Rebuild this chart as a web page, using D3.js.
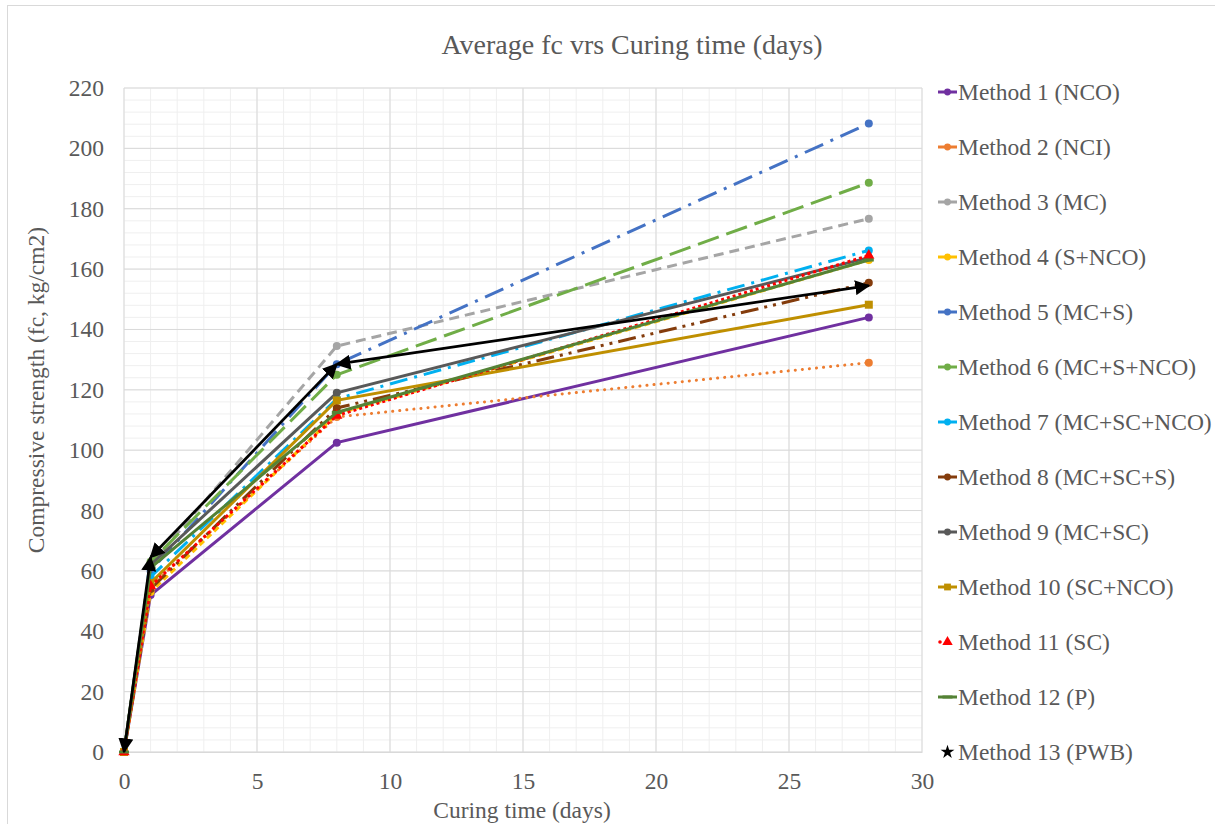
<!DOCTYPE html>
<html>
<head>
<meta charset="utf-8">
<script src="https://cdn.jsdelivr.net/npm/d3@7/dist/d3.min.js"></script>
<style>
  body { margin: 0; background: #fff; }
  text { font-family: "Liberation Serif", "Times New Roman", serif; fill: #595959; }
</style>
</head>
<body>
<svg id="chart" width="1215" height="824"></svg>
<script>
// curing days and strength per method
var days = [0, 1, 8, 28];
var names = ["Method 1 (NCO)", "Method 2 (NCI)", "Method 3 (MC)", "Method 4 (S+NCO)",
  "Method 5 (MC+S)", "Method 6 (MC+S+NCO)", "Method 7 (MC+SC+NCO)", "Method 8 (MC+SC+S)",
  "Method 9 (MC+SC)", "Method 10 (SC+NCO)", "Method 11 (SC)", "Method 12 (P)", "Method 13 (PWB)"];
var m1 = [0, 52, 102.5, 144];
var m2 = [0, 55, 111, 129];
var m3 = [0, 62, 134.5, 176.7];
var m4 = [0, 53, 112, 163];
var m5 = [0, 60, 128.5, 208.2];
var m6 = [0, 63, 125, 188.6];
var m7 = [0, 58, 117, 166.2];
var m8 = [0, 54, 114, 155.5];
var m9 = [0, 62, 119, 163.8];
var m10 = [0, 56, 116.5, 148.2];
var m11 = [0, 55, 111.5, 164.5];
var m12 = [0, 61, 112.5, 163];
var m13 = [0, 64.5, 128.5, 154.5];
var allVals = [m1, m2, m3, m4, m5, m6, m7, m8, m9, m10, m11, m12, m13];
var xTicks = [0, 5, 10, 15, 20, 25, 30];
var yTicks = [0, 20, 40, 60, 80, 100, 120, 140, 160, 180, 200, 220];

var colors = ["#7030A0", "#ED7D31", "#A5A5A5", "#FFC000", "#4472C4", "#70AD47", "#00B0F0",
  "#843C0C", "#595959", "#BF8F00", "#FF0000", "#548235", "#000000"];
var dashes = [null, "0.1,7", "10,6", "6,4", "20,8,3,8", "22,8", "18,7,3,7", "18,6,3,6,3,6",
  null, null, "3,3", null, null];
var caps = ["butt", "round", "butt", "butt", "butt", "butt", "butt", "butt", "butt", "butt", "butt", "butt", "butt"];
var markerType = ["circle", "circle", "circle", "circle", "circle", "circle", "circle", "circle",
  "circle", "square", "triangle", "dash", "star"];

var svg = d3.select("#chart");
var margin = {left: 124, top: 88, right: 922, bottom: 752};
var fontSize = "23.5px";

// chart frame
svg.append("rect").attr("x", 7.5).attr("y", 5.5).attr("width", 1220).attr("height", 830)
  .attr("fill", "none").attr("stroke", "#d9d9d9");

var x = d3.scaleLinear().domain([0, 30]).range([margin.left, margin.right]);
var y = d3.scaleLinear().domain([0, 220]).range([margin.bottom, margin.top]);

// minor grid
var grid = svg.append("g");
grid.selectAll(".mx").data(d3.range(0, 31, 1)).enter().append("line")
  .attr("x1", d => x(d)).attr("x2", d => x(d)).attr("y1", y(0)).attr("y2", y(220))
  .attr("stroke", "#efefef").attr("stroke-width", 1);
grid.selectAll(".my").data(d3.range(0, 221, 4)).enter().append("line")
  .attr("x1", x(0)).attr("x2", x(30)).attr("y1", d => y(d)).attr("y2", d => y(d))
  .attr("stroke", "#efefef").attr("stroke-width", 1);
// major grid
grid.selectAll(".Mx").data(xTicks).enter().append("line")
  .attr("x1", d => x(d)).attr("x2", d => x(d)).attr("y1", y(0)).attr("y2", y(220))
  .attr("stroke", "#d9d9d9").attr("stroke-width", 1);
grid.selectAll(".My").data(yTicks).enter().append("line")
  .attr("x1", x(0)).attr("x2", x(30)).attr("y1", d => y(d)).attr("y2", d => y(d))
  .attr("stroke", "#d9d9d9").attr("stroke-width", 1);

// axes
var xAxis = d3.axisBottom(x).tickValues(xTicks).tickSize(0).tickPadding(20);
var yAxis = d3.axisLeft(y).tickValues(yTicks).tickSize(0).tickPadding(20);
var gx = svg.append("g").attr("transform", "translate(0," + margin.bottom + ")").call(xAxis);
gx.select(".domain").attr("stroke", "#d9d9d9");
gx.selectAll("text").style("font-size", fontSize).style("font-family", "Liberation Serif").attr("fill", "#595959");
var gy = svg.append("g").attr("transform", "translate(" + margin.left + ",0)").call(yAxis);
gy.select(".domain").remove();
gy.selectAll("text").style("font-size", fontSize).style("font-family", "Liberation Serif").attr("fill", "#595959");

// titles
svg.append("text").attr("x", 632).attr("y", 54).attr("text-anchor", "middle")
  .style("font-size", "28px").text("Average fc vrs Curing time (days)");
svg.append("text").attr("x", 522).attr("y", 818).attr("text-anchor", "middle")
  .style("font-size", fontSize).text("Curing time (days)");
svg.append("text").attr("transform", "translate(44,390) rotate(-90)").attr("text-anchor", "middle")
  .style("font-size", fontSize).text("Compressive strength (fc, kg/cm2)");

// arrow marker for method 13
var defs = svg.append("defs");
defs.append("marker").attr("id", "arrow").attr("viewBox", "0 0 10 10")
  .attr("refX", 9).attr("refY", 5).attr("markerWidth", 5.5).attr("markerHeight", 5.5)
  .attr("markerUnits", "strokeWidth").attr("orient", "auto-start-reverse")
  .append("path").attr("d", "M0,0 L10,5 L0,10 z").attr("fill", "#000");

var line = d3.line().x(d => x(d[0])).y(d => y(d[1]));

function drawMarker(g, type, cx, cy, col, big) {
  var s = big ? 1 : 0.85;
  if (type == "circle") {
    g.append("circle").attr("cx", cx).attr("cy", cy).attr("r", 4 * s).attr("fill", col);
  } else if (type == "square") {
    g.append("rect").attr("x", cx - 4 * s).attr("y", cy - 4 * s).attr("width", 8 * s).attr("height", 8 * s).attr("fill", col);
  } else if (type == "triangle") {
    g.append("path").attr("d", d3.symbol(d3.symbolTriangle, 55 * s)).attr("transform", "translate(" + cx + "," + cy + ")").attr("fill", col);
  } else if (type == "dash") {
    g.append("rect").attr("x", cx - 5).attr("y", cy - 1.5).attr("width", 10).attr("height", 3).attr("fill", col);
  } else if (type == "star") {
    g.append("path").attr("d", d3.symbol(d3.symbolStar, 70 * s)).attr("transform", "translate(" + cx + "," + cy + ")").attr("fill", col);
  }
}

var plot = svg.append("g");
allVals.forEach(function(vals, i) {
  var pts = days.map((d, j) => [d, vals[j]]);
  var g = plot.append("g");
  if (i == 12) {
    // black line: every segment has arrows at both ends
    for (var k = 0; k < pts.length - 1; k++) {
      g.append("path").attr("d", line([pts[k], pts[k + 1]])).attr("fill", "none")
        .attr("stroke", "#000").attr("stroke-width", 2.75)
        .attr("marker-start", "url(#arrow)").attr("marker-end", "url(#arrow)");
    }
    return;
  }
  g.append("path").attr("d", line(pts)).attr("fill", "none")
    .attr("stroke", colors[i]).attr("stroke-width", 3)
    .attr("stroke-dasharray", dashes[i]).attr("stroke-linecap", caps[i]);
  pts.forEach(function(p) {
    drawMarker(g, markerType[i], x(p[0]), y(p[1]), colors[i], true);
  });
});

// legend
var leg = svg.append("g");
names.forEach(function(n, i) {
  var cy = 92 + i * 55;
  var g = leg.append("g");
  if (i != 12 && i != 10) {
    g.append("line").attr("x1", 938).attr("x2", 957).attr("y1", cy).attr("y2", cy)
      .attr("stroke", colors[i]).attr("stroke-width", 3);
  } else if (i == 10) {
    g.append("circle").attr("cx", 940).attr("cy", cy).attr("r", 1.8).attr("fill", colors[i]);
  }
  drawMarker(g, markerType[i], 947.5, cy, colors[i], false);
  g.append("text").attr("x", 958).attr("y", cy + 8).style("font-size", fontSize).text(n);
});
</script>
</body>
</html>
